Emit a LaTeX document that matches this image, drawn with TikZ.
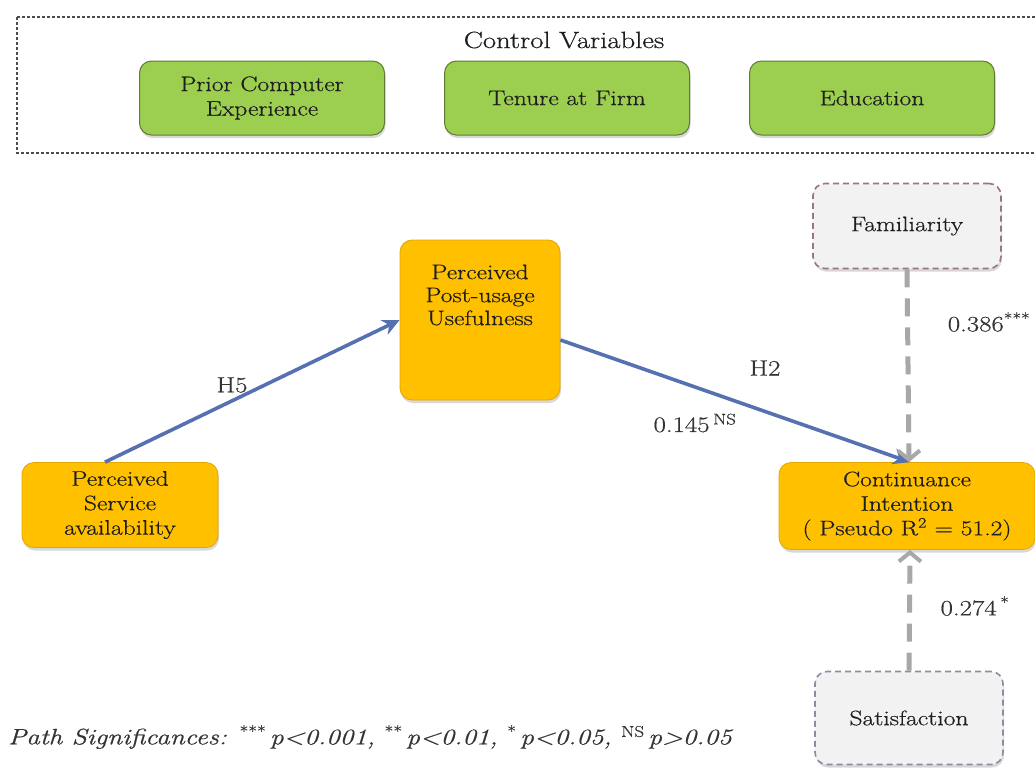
\documentclass[tikz,border=0pt]{standalone}
\usepackage{fontspec}
\setmainfont{Latin Modern Roman}[FakeStretch=1.22,FakeBold=0.6]
\usetikzlibrary{arrows.meta,shadows}
\definecolor{ctrlgreen}{HTML}{9CCF4F}
\definecolor{ctrlborder}{HTML}{5E7A36}
\definecolor{mainorange}{HTML}{FFC000}
\definecolor{orangeborder}{HTML}{E3A600}
\definecolor{famborder}{HTML}{9C7480}
\definecolor{satborder}{HTML}{8C8CA4}
\definecolor{modfill}{HTML}{F2F2F3}
\definecolor{pathblue}{HTML}{5670B2}
\definecolor{modgray}{HTML}{A8A8A8}
\definecolor{txt}{HTML}{1E1E1E}
\definecolor{lbltxt}{HTML}{333333}
\tikzset{
  basebox/.style={rounded corners=12pt, align=center, text=txt,
    font=\fontsize{21}{24.5}\selectfont, inner sep=2pt,
    drop shadow={shadow xshift=1pt, shadow yshift=-3pt, opacity=0.3}},
  ctrlbox/.style={basebox, fill=ctrlgreen, draw=ctrlborder, line width=1pt,
    minimum width=245pt, minimum height=74pt},
  mainbox/.style={basebox, fill=mainorange, draw=orangeborder, line width=0.8pt},
  modbox/.style={basebox, fill=modfill, line width=1.6pt, dash pattern=on 6pt off 4pt,
    minimum width=188pt},
  bluepath/.style={draw=pathblue, line width=3.6pt, -{Stealth[length=17pt,width=16pt]}},
  graypath/.style={draw=modgray, line width=5pt, dash pattern=on 18pt off 11pt,
    -{Straight Barb[length=9pt,width=22pt,line width=4pt]}},
  lbl/.style={text=lbltxt, font=\fontsize{22}{24}\selectfont, inner sep=0pt}
}
\begin{document}
\begin{tikzpicture}[x=1pt,y=-1pt]
\useasboundingbox (0,0) rectangle (1035,772);
\fill[white] (0,0) rectangle (1035,772);
% control variables frame
\draw[draw=black!70, line width=1.3pt, dash pattern=on 3pt off 2pt] (17,17) rectangle (1050,153);
\node[lbl, text=txt, font=\fontsize{23.5}{25}\selectfont] (ctitle) at (564,40) {Control Variables};
\node[ctrlbox] (prior) at (262,98) {Prior Computer\\Experience};
\node[ctrlbox] (tenure) at (567,98) {Tenure at Firm};
\node[ctrlbox] (edu) at (872,98) {Education};
% main constructs
\node[mainbox, minimum width=160pt, minimum height=160pt] (ppu) at (480,320) {};
\node[lbl, text=txt, align=center, font=\fontsize{21}{23}\selectfont] (ppuT) at (480,295) {Perceived\\Post-usage\\Usefulness};
\node[mainbox, minimum width=196pt, minimum height=85pt] (psa) at (120,505) {Perceived\\Service\\availability};
\node[mainbox, minimum width=256pt, minimum height=87pt] (ci) at (907,506) {Continuance\\Intention\\( Pseudo R\textsuperscript{2} = 51.2)};
% moderators
\node[modbox, draw=famborder, minimum height=85pt] (fam) at (907,226) {Familiarity};
\node[modbox, draw=satborder, minimum height=93pt] (sat) at (909,718) {Satisfaction};
% paths
\draw[bluepath] ([xshift=-15pt]psa.north) -- (ppu.west);
\draw[bluepath] ([yshift=-20pt]ppu.east) -- ([xshift=3pt]ci.north);
\draw[graypath] (fam.south) -- ([xshift=2pt]ci.north);
\draw[graypath] (sat.north) -- ([xshift=3pt]ci.south);
% labels
\node[lbl] (h5) at (232,385) {H5};
\node[lbl] (h2) at (765,368) {H2};
\node[lbl] (b145) at (695,423) {0.145\,\textsuperscript{NS}};
\node[lbl] (b386) at (989,322) {0.386\textsuperscript{***}};
\node[lbl] (b274) at (975,606) {0.274\,\textsuperscript{*}};
\node[lbl, anchor=west, font=\itshape\fontsize{22.3}{24}\selectfont] (foot) at (8,737)
  {Path Significances: \textsuperscript{\upshape ***}\,p<0.001, \textsuperscript{\upshape **}\,p<0.01, \textsuperscript{\upshape *}\,p<0.05, \textsuperscript{\upshape NS}\,p>0.05};
\end{tikzpicture}
\end{document}
